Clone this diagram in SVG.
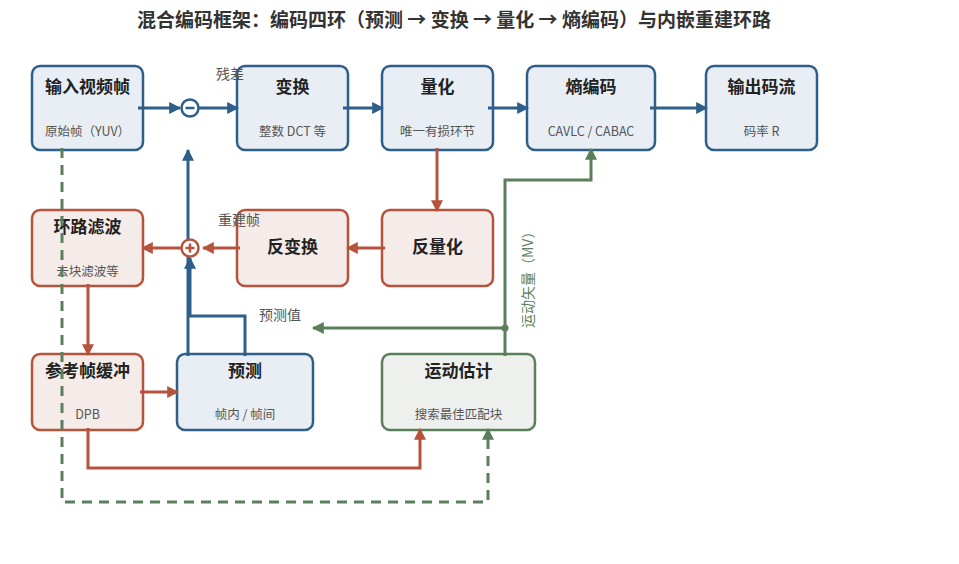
<svg xmlns="http://www.w3.org/2000/svg" width="959" height="564" viewBox="0 0 959 564">
<defs>
<style>
text{font-family:"Noto Sans CJK SC","Noto Sans",sans-serif}
.title{font-size:19px;font-weight:bold;fill:#333}
.h{font-size:17px;font-weight:bold;fill:#222;text-anchor:middle}
.s{font-size:12.5px;fill:#555;text-anchor:middle}
.lab{font-size:14px;fill:#555}
.nb{fill:#e8eef3;stroke:#2e5f8a;stroke-width:2.5}
.nr{fill:#f5ece9;stroke:#b5533c;stroke-width:2.5}
.ng{fill:#edf0ed;stroke:#5a7f5a;stroke-width:2.5}
.cb{fill:none;stroke:#2e5f8a;stroke-width:3}
.cr{fill:none;stroke:#b5533c;stroke-width:3}
.cg{fill:none;stroke:#5a7f5a;stroke-width:3}
.dash{stroke-dasharray:10 7}
</style>
<marker id="ab" viewBox="0 0 10 10" refX="9" refY="5" markerWidth="4" markerHeight="4" orient="auto"><path d="M0,0L10,5L0,10z" fill="#2e5f8a"/></marker>
<marker id="ar" viewBox="0 0 10 10" refX="9" refY="5" markerWidth="4" markerHeight="4" orient="auto"><path d="M0,0L10,5L0,10z" fill="#b5533c"/></marker>
<marker id="ag" viewBox="0 0 10 10" refX="9" refY="5" markerWidth="4" markerHeight="4" orient="auto"><path d="M0,0L10,5L0,10z" fill="#5a7f5a"/></marker>
</defs>
<rect width="959" height="564" fill="#fff"/>
<text class="title" x="454" y="27" text-anchor="middle">混合编码框架：编码四环（预测 → 变换 → 量化 → 熵编码）与内嵌重建环路</text>

<g id="input"><rect class="nb" x="32" y="66" width="111" height="84" rx="8"/><text class="h" x="87.5" y="93">输入视频帧</text><text class="s" x="87.5" y="136">原始帧（YUV）</text></g>
<g id="transform"><rect class="nb" x="237" y="66" width="111" height="84" rx="8"/><text class="h" x="292.5" y="93">变换</text><text class="s" x="292.5" y="136">整数 DCT 等</text></g>
<g id="quant"><rect class="nb" x="382" y="66" width="111" height="84" rx="8"/><text class="h" x="437.5" y="93">量化</text><text class="s" x="437.5" y="136">唯一有损环节</text></g>
<g id="entropy"><rect class="nb" x="527" y="66" width="128" height="84" rx="8"/><text class="h" x="591" y="93">熵编码</text><text class="s" x="591" y="136">CAVLC / CABAC</text></g>
<g id="output"><rect class="nb" x="706" y="66" width="111" height="84" rx="8"/><text class="h" x="761.5" y="93">输出码流</text><text class="s" x="761.5" y="136">码率 R</text></g>
<g id="loopfilter"><rect class="nr" x="32" y="210" width="111" height="76" rx="8"/><text class="h" x="87.5" y="233">环路滤波</text><text class="s" x="87.5" y="276">去块滤波等</text></g>
<g id="invtransform"><rect class="nr" x="237" y="210" width="111" height="76" rx="8"/><text class="h" x="292.5" y="253">反变换</text></g>
<g id="invquant"><rect class="nr" x="382" y="210" width="111" height="76" rx="8"/><text class="h" x="437.5" y="253">反量化</text></g>
<g id="dpb"><rect class="nr" x="32" y="354" width="111" height="76" rx="8"/><text class="h" x="87.5" y="377">参考帧缓冲</text><text class="s" x="87.5" y="419">DPB</text></g>
<g id="predict"><rect class="nb" x="177" y="354" width="136" height="76" rx="8"/><text class="h" x="245" y="377">预测</text><text class="s" x="245" y="419">帧内 / 帧间</text></g>
<g id="me"><rect class="ng" x="382" y="354" width="153" height="76" rx="8"/><text class="h" x="458.5" y="377">运动估计</text><text class="s" x="458.5" y="419">搜索最佳匹配块</text></g>

<g id="connectors">
<path class="cb" d="M138,108H180" marker-end="url(#ab)"/>
<path class="cb" d="M199,108H238" marker-end="url(#ab)"/>
<path class="cb" d="M343,108H383" marker-end="url(#ab)"/>
<path class="cb" d="M488,108H528" marker-end="url(#ab)"/>
<path class="cb" d="M650,108H707" marker-end="url(#ab)"/>
<path class="cb" d="M188,356V150" marker-end="url(#ab)"/>
<path class="cb" d="M245,356V316H190V258" marker-end="url(#ab)"/>
<path class="cr" d="M437,148V211" marker-end="url(#ar)"/>
<path class="cr" d="M385,248H347" marker-end="url(#ar)"/>
<path class="cr" d="M240,248H203" marker-end="url(#ar)"/>
<path class="cr" d="M181,248H142" marker-end="url(#ar)"/>
<path class="cr" d="M88,284V355" marker-end="url(#ar)"/>
<path class="cr" d="M140,392H178" marker-end="url(#ar)"/>
<path class="cr" d="M88,428V468H420V429" marker-end="url(#ar)"/>
<path class="cg dash" d="M62,148V502H488V429" marker-end="url(#ag)"/>
<path class="cg" d="M505,356V180H591V149" marker-end="url(#ag)"/>
<path class="cg" d="M505,328H313" marker-end="url(#ag)"/>
<circle cx="505" cy="328" r="3.5" fill="#5a7f5a"/>
<circle cx="190" cy="108" r="8.5" fill="#fff" stroke="#2e5f8a" stroke-width="2.5"/>
<path d="M185.5,108H194.5" stroke="#2e5f8a" stroke-width="2.5"/>
<circle cx="190" cy="248" r="8.5" fill="#fff" stroke="#b5533c" stroke-width="2.5"/>
<path d="M185.5,248H194.5M190,243.5V252.5" stroke="#b5533c" stroke-width="2.5"/>
<text class="lab" x="216" y="79">残差</text>
<text class="lab" x="218" y="225">重建帧</text>
<text class="lab" x="259" y="320">预测值</text>
<text class="lab" style="fill:#5a7f5a" transform="translate(533,328) rotate(-90)">运动矢量（MV）</text>
</g>
</svg>
